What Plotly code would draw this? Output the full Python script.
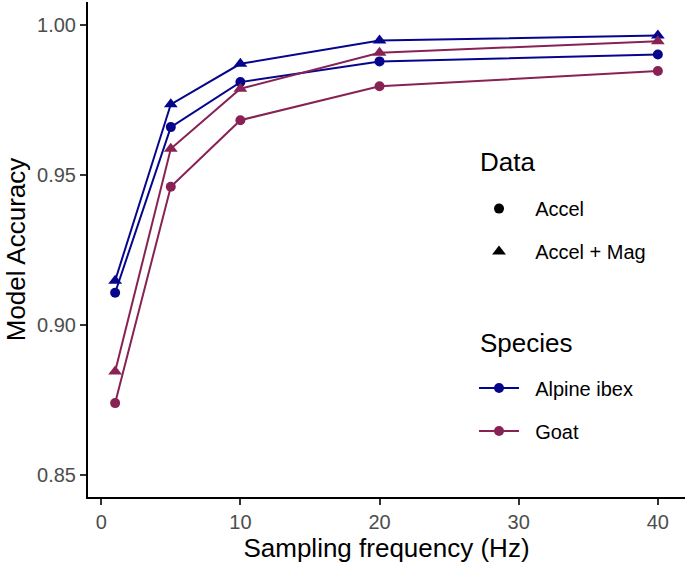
import plotly.graph_objects as go

freq = [1, 5, 10, 20, 40]
ibex_accel = [0.9106, 0.9658, 0.9808, 0.9877, 0.9900]
ibex_accel_mag = [0.9146, 0.9734, 0.9869, 0.9947, 0.9963]
goat_accel = [0.8738, 0.9459, 0.9681, 0.9794, 0.9845]
goat_accel_mag = [0.8843, 0.9586, 0.9786, 0.9906, 0.9944]

x_ticks = [0, 10, 20, 30, 40]
y_ticks = [0.85, 0.90, 0.95, 1.00]

data_labels = ["Accel", "Accel + Mag"]
species_labels = ["Alpine ibex", "Goat"]

NAVY = "#06068C"
WINE = "#882255"
FONT = "Liberation Sans, Arial, sans-serif"
PAD = "\u00a0\u00a0"

fig = go.Figure()

series = [
    (ibex_accel, NAVY, "circle", 10),
    (ibex_accel_mag, NAVY, "triangle-up", 12),
    (goat_accel, WINE, "circle", 10),
    (goat_accel_mag, WINE, "triangle-up", 12),
]
names = ["Alpine ibex Accel", "Alpine ibex Accel + Mag", "Goat Accel", "Goat Accel + Mag"]
for (vals, col, sym, sz), nm in zip(series, names):
    fig.add_trace(go.Scatter(
        x=freq, y=vals, mode="lines+markers", name=nm,
        line=dict(color=col, width=2),
        marker=dict(color=col, symbol=sym, size=sz),
        showlegend=False,
    ))

# Legend: Data (shape)
for i, (lab, sym, sz) in enumerate(zip(data_labels, ["circle", "triangle-up"], [10, 12])):
    fig.add_trace(go.Scatter(
        x=[None], y=[None], mode="markers", name=PAD + lab,
        marker=dict(color="black", symbol=sym, size=sz),
        legend="legend", legendgroup=f"d{i}",
    ))
# Legend: Species (colour)
for i, (lab, col) in enumerate(zip(species_labels, [NAVY, WINE])):
    fig.add_trace(go.Scatter(
        x=[None], y=[None], mode="lines+markers", name=PAD + lab,
        line=dict(color=col, width=2),
        marker=dict(color=col, symbol="circle", size=10),
        legend="legend2", legendgroup=f"s{i}",
    ))

legend_common = dict(
    font=dict(family=FONT, size=20, color="black"),
    bgcolor="rgba(0,0,0,0)",
    borderwidth=0,
    tracegroupgap=14,
    xanchor="left", yanchor="top",
    itemwidth=40,
)

fig.update_layout(
    width=685, height=568,
    paper_bgcolor="white", plot_bgcolor="white",
    margin=dict(l=88, r=0, t=2, b=71),
    font=dict(family=FONT, color="black"),
    legend=dict(x=0.6466, y=0.622, **legend_common),
    legend2=dict(x=0.6466, y=0.2595, **legend_common),
    annotations=[
        dict(text="Data", xref="paper", yref="paper", x=0.6533, y=0.6768,
             xanchor="left", yanchor="middle", showarrow=False,
             font=dict(family=FONT, size=26, color="black")),
        dict(text="Species", xref="paper", yref="paper", x=0.6533, y=0.311,
             xanchor="left", yanchor="middle", showarrow=False,
             font=dict(family=FONT, size=26, color="black")),
    ],
    xaxis=dict(
        range=[-0.95, 41.95], tickvals=x_ticks, ticktext=[str(v) for v in x_ticks],
        showgrid=False, zeroline=False, showline=True, linecolor="black", linewidth=2,
        ticks="outside", ticklen=6, tickwidth=1.5, tickcolor="#333333",
        tickfont=dict(family=FONT, size=20, color="#4D4D4D"),
        title=dict(text="Sampling frequency (Hz)", font=dict(family=FONT, size=26, color="black"), standoff=6),
    ),
    yaxis=dict(
        range=[0.8425, 1.0075], tickvals=y_ticks, ticktext=[f"{v:.2f}" for v in y_ticks],
        showgrid=False, zeroline=False, showline=True, linecolor="black", linewidth=2,
        ticks="outside", ticklen=6, tickwidth=1.5, tickcolor="#333333",
        tickfont=dict(family=FONT, size=20, color="#4D4D4D"),
        title=dict(text="Model Accuracy", font=dict(family=FONT, size=26, color="black"), standoff=4),
    ),
)

fig.write_html("out.html", config={"displayModeBar": False},
               post_script="document.body.style.margin='0px';")
